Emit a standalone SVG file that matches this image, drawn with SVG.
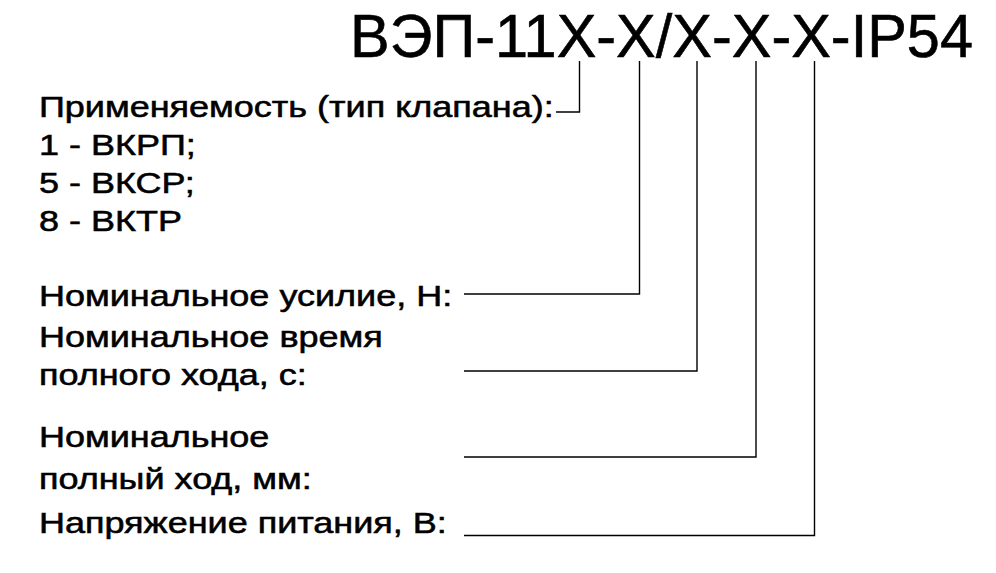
<svg xmlns="http://www.w3.org/2000/svg" width="996" height="573" viewBox="0 0 996 573">
<style>
.t{font-family:"Liberation Sans",Arial,sans-serif;fill:#000}
.lbl{font-size:30px;stroke:#000;stroke-width:0.55}
.c{fill:none;stroke:#000;stroke-width:1.4}
</style>
<rect width="996" height="573" fill="#fff"/>
<g id="title"><text class="t" x="350" y="57" font-size="61" stroke="#000" stroke-width="0.6" textLength="623" lengthAdjust="spacingAndGlyphs">ВЭП-11X-X/X-X-X-IP54</text></g>
<g id="labels" transform="scale(1.2,1)">
<g id="n-type"><text class="t lbl" x="32.5" y="117">Применяемость (тип клапана):</text>
<text class="t lbl" x="32.5" y="155">1 - ВКРП;</text>
<text class="t lbl" x="32.5" y="193">5 - ВКСР;</text>
<text class="t lbl" x="32.5" y="231">8 - ВКТР</text></g>
<g id="n-force"><text class="t lbl" x="32.5" y="306">Номинальное усилие, Н:</text></g>
<g id="n-time"><text class="t lbl" x="32.5" y="347">Номинальное время</text>
<text class="t lbl" x="32.5" y="385">полного хода, с:</text></g>
<g id="n-stroke"><text class="t lbl" x="32.5" y="447">Номинальное</text>
<text class="t lbl" x="32.5" y="489">полный ход, мм:</text></g>
<g id="n-volt"><text class="t lbl" x="32.5" y="533">Напряжение питания, В:</text></g>
</g>
<g id="connectors">
<path class="c" d="M556,112H579.5V61"/>
<path class="c" d="M464,294H639.5V61"/>
<path class="c" d="M464,371H697V61"/>
<path class="c" d="M464,457H756V61"/>
<path class="c" d="M464,535.5H814.5V61"/>
</g>
</svg>
